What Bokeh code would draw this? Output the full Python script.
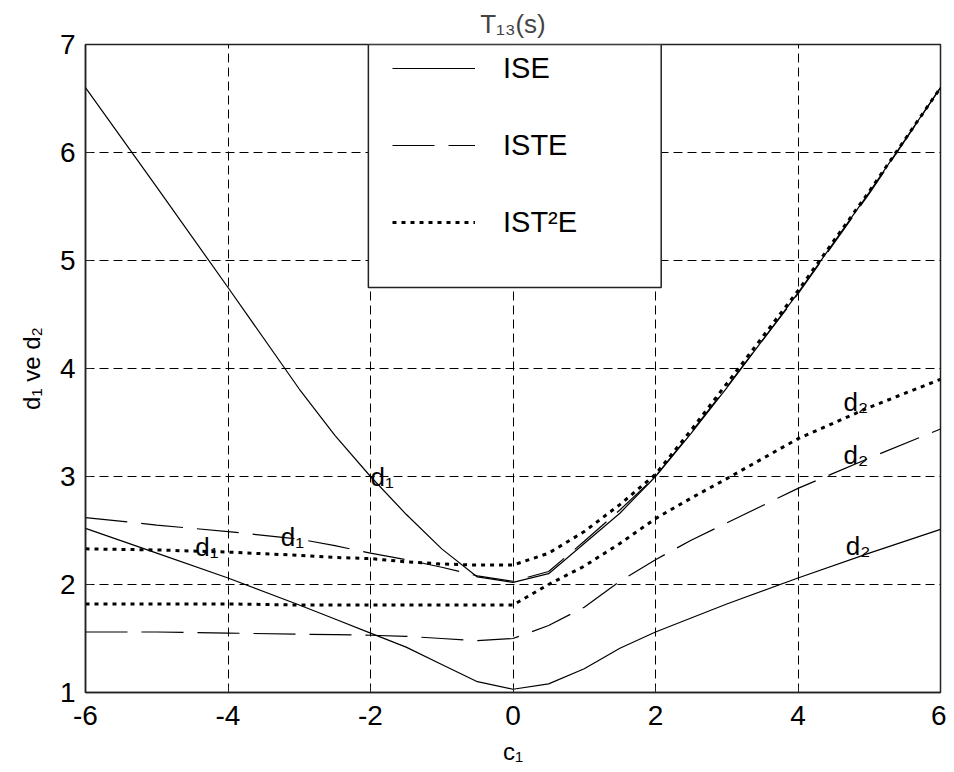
import numpy as np
from bokeh.plotting import figure
from bokeh.models import (Legend, LegendItem, BoxAnnotation, ColumnDataSource,
                          FixedTicker)
from bokeh.core.properties import value
from bokeh.embed import file_html
from bokeh.resources import INLINE

# ---------------- data ----------------
c1 = [-6, -5, -4, -3, -2.5, -2, -1.5, -1, -0.5, 0, 0.5, 1, 1.5, 2, 2.5, 3, 4, 5, 6]

ise_d1   = [6.60, 5.68, 4.75, 3.81, 3.38, 3.00, 2.65, 2.33, 2.07, 2.02, 2.10, 2.38, 2.66, 3.00, 3.40, 3.82, 4.70, 5.63, 6.60]
iste_d1  = [2.62, 2.55, 2.49, 2.42, 2.36, 2.29, 2.23, 2.16, 2.08, 2.03, 2.12, 2.40, 2.69, 3.00, 3.41, 3.83, 4.69, 5.62, 6.60]
ist2e_d1 = [2.33, 2.32, 2.30, 2.27, 2.25, 2.24, 2.21, 2.19, 2.18, 2.18, 2.29, 2.49, 2.74, 3.02, 3.43, 3.86, 4.72, 5.64, 6.60]

ise_d2   = [2.52, 2.29, 2.06, 1.81, 1.68, 1.55, 1.42, 1.26, 1.10, 1.03, 1.08, 1.22, 1.41, 1.56, 1.69, 1.82, 2.06, 2.29, 2.51]
iste_d2  = [1.56, 1.56, 1.55, 1.54, 1.535, 1.53, 1.52, 1.50, 1.48, 1.50, 1.62, 1.79, 2.03, 2.23, 2.41, 2.57, 2.89, 3.17, 3.44]
ist2e_d2 = [1.82, 1.82, 1.82, 1.81, 1.81, 1.81, 1.81, 1.81, 1.81, 1.81, 2.00, 2.17, 2.38, 2.61, 2.80, 2.98, 3.35, 3.64, 3.90]

series_names = ["ISE", "ISTE", "IST²E"]

x_ticks = [-6, -4, -2, 0, 2, 4, 6]
x_tick_labels = ["-6", "-4", "-2", "0", "2", "4", "6"]
y_ticks = [1, 2, 3, 4, 5, 6, 7]
y_tick_labels = ["1", "2", "3", "4", "5", "6", "7"]

# curve annotations: text, x position, which curve it sits on
label_texts = ["d₁", "d₁", "d₁", "d₂", "d₂", "d₂"]
label_x = [-2.0, -3.26, -4.46, 4.64, 4.64, 4.67]
label_curves = [ise_d1, iste_d1, ist2e_d1, ist2e_d2, iste_d2, ise_d2]

# ---------------- styling / layout ----------------
FONT = "Liberation Sans"
label_dy = [0.0, 0.0, 0.04, 0.15, 0.13, 0.14]

p = figure(frame_width=855, frame_height=648,
           x_range=(-6, 6), y_range=(1, 7),
           output_backend="svg", toolbar_location=None,
           min_border_left=85, min_border_top=43,
           min_border_right=6, min_border_bottom=76,
           title="T₁₃(s)")

p.title.align = "center"
p.title.text_font = FONT
p.title.text_font_size = "26px"
p.title.text_font_style = "normal"
p.title.standoff = 12
p.title.offset = -10

p.background_fill_color = "white"
p.border_fill_color = "white"
p.outline_line_color = "#222222"
p.outline_line_width = 1.5
p.outline_line_alpha = 1.0

# axes
p.xaxis.ticker = FixedTicker(ticks=x_ticks)
p.yaxis.ticker = FixedTicker(ticks=y_ticks)
p.xaxis.major_label_overrides = dict(zip(x_ticks, x_tick_labels))
p.yaxis.major_label_overrides = dict(zip(y_ticks, y_tick_labels))
for ax in (p.xaxis[0], p.yaxis[0]):
    ax.major_tick_in = 6
    ax.major_tick_out = 0
    ax.minor_tick_line_color = None
    ax.axis_line_color = "#222222"
    ax.axis_line_width = 1.5
    ax.major_tick_line_color = "#222222"
    ax.major_label_text_font = FONT
    ax.major_label_text_font_size = "28px"
    ax.major_label_text_color = "black"
    ax.axis_label_text_font = FONT
    ax.axis_label_text_font_size = "24px"
    ax.axis_label_text_font_style = "normal"
    ax.axis_label_text_color = "black"

p.xaxis.axis_label = "c₁"
p.yaxis.axis_label = "d₁ ve d₂"
p.xaxis.major_label_standoff = 13
p.xaxis.axis_label_standoff = 10
p.yaxis.major_label_standoff = 10
p.yaxis.axis_label_standoff = 12

# grid
for g in (p.xgrid[0], p.ygrid[0]):
    g.grid_line_color = "black"
    g.grid_line_width = 1
    g.grid_line_dash = "9 5"
    g.grid_line_alpha = 1.0
p.xgrid.ticker = FixedTicker(ticks=x_ticks)
p.ygrid.ticker = FixedTicker(ticks=y_ticks)

# ---------------- curves ----------------
src = ColumnDataSource(dict(c1=c1, ise_d1=ise_d1, iste_d1=iste_d1, ist2e_d1=ist2e_d1,
                            ise_d2=ise_d2, iste_d2=iste_d2, ist2e_d2=ist2e_d2))

solid = dict(line_color="black", line_width=1.2)
dashed = dict(line_color="black", line_width=1.2, line_dash="42 14")
dotted = dict(line_color="black", line_width=3, line_dash="4 5")

r_ise1 = p.line("c1", "ise_d1", source=src, **solid)
r_ise2 = p.line("c1", "ise_d2", source=src, **solid)
r_iste1 = p.line("c1", "iste_d1", source=src, **dashed)
r_iste2 = p.line("c1", "iste_d2", source=src, **dashed)
r_ist2e1 = p.line("c1", "ist2e_d1", source=src, **dotted)
r_ist2e2 = p.line("c1", "ist2e_d2", source=src, **dotted)

# curve labels
lab_y = [float(np.interp(x, c1, cv)) + dy for x, cv, dy in zip(label_x, label_curves, label_dy)]
lab_src = ColumnDataSource(dict(x=label_x, y=lab_y, t=label_texts))
p.text("x", "y", text="t", source=lab_src, text_font=value(FONT),
       text_font_size="26px", text_color="black",
       text_align="left", text_baseline="alphabetic")

# ---------------- legend ----------------
box = BoxAnnotation(left=-2.03, right=2.08, bottom=4.75, top=7,
                    fill_color="white", fill_alpha=1.0,
                    line_color="#222222", line_width=1.5, line_alpha=1.0)
p.add_layout(box)

legend = Legend(items=[LegendItem(label=series_names[0], renderers=[r_ise1]),
                       LegendItem(label=series_names[1], renderers=[r_iste1]),
                       LegendItem(label=series_names[2], renderers=[r_ist2e1])],
                location=(307, 453), padding=7, spacing=43,
                glyph_width=83, glyph_height=34, label_height=34,
                label_standoff=28, label_text_font=FONT,
                label_text_font_size="29px", label_text_color="black",
                border_line_color=None, background_fill_alpha=0.0,
                margin=0)
p.add_layout(legend)

open("out.html", "w").write(file_html(p, INLINE))
